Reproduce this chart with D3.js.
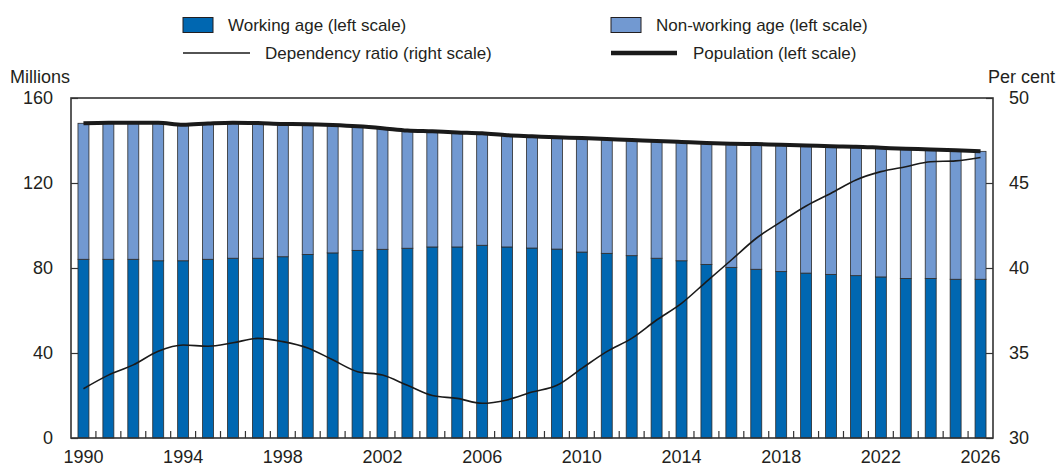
<!DOCTYPE html>
<html><head><meta charset="utf-8">
<script src="https://cdn.jsdelivr.net/npm/d3@7"></script>
<style>
html,body{margin:0;padding:0;background:#fff;}
svg text{font-family:"Liberation Sans Narrow","Arial Narrow","Liberation Sans",sans-serif;font-stretch:condensed;fill:#231f20;}
</style></head>
<body>
<svg id="chart" width="1057" height="468"></svg>
<script>
const years = d3.range(1990, 2027);
const workingAge = [84.1,84.1,84.1,83.4,83.4,84.1,84.6,84.6,85.3,86.4,87.1,88.3,88.8,89.3,89.9,89.9,90.7,89.9,89.4,88.9,87.5,86.9,85.8,84.6,83.4,81.7,80.3,79.4,78.3,77.6,77.0,76.4,75.8,75.1,75.1,74.7,74.7];
const population = [148.1,148.4,148.4,148.3,147.4,148.0,148.4,148.2,147.8,147.7,147.3,146.7,145.8,144.7,144.3,143.8,143.4,142.5,142.0,141.5,141.2,140.7,140.2,139.8,139.3,138.8,138.5,138.3,138.0,137.7,137.3,137.1,136.6,136.1,135.8,135.4,134.9];
const nonWorkingAge = population.map((p,i)=> +(p - workingAge[i]).toFixed(1));
const dependencyRatio = [32.9,33.7,34.3,35.1,35.47,35.4,35.6,35.86,35.67,35.3,34.6,33.9,33.7,33.1,32.5,32.33,32.04,32.24,32.7,33.1,34.1,35.08,35.86,36.94,37.92,39.2,40.47,41.75,42.73,43.65,44.4,45.18,45.67,45.96,46.25,46.3,46.5];
const leftTicks = [0,40,80,120,160];
const rightTicks = [30,35,40,45,50];
const yearLabels = d3.range(1990, 2027, 4);
const legendItems = [
  {label:"Working age (left scale)", type:"rect", key:"work"},
  {label:"Non-working age (left scale)", type:"rect", key:"non"},
  {label:"Dependency ratio (right scale)", type:"thin", key:"dep"},
  {label:"Population (left scale)", type:"thick", key:"pop"}
];

const colors = {work:"#0067b1", non:"#7299d1", line:"#1a1a1a", frame:"#333"};
const X0=71, X1=993, Y0=98, Y1=438;
const svg = d3.select("#chart");

const x = d3.scaleBand().domain(years).range([X0,X1]).paddingInner(0.56).paddingOuter(0.28);
const yL = d3.scaleLinear().domain([0,160]).range([Y1,Y0]);
const yR = d3.scaleLinear().domain([30,50]).range([Y1,Y0]);
const cx = d => x(d) + x.bandwidth()/2;

// bars
const g = svg.append("g");
g.selectAll("rect.work").data(years).join("rect")
  .attr("x", d=>x(d)).attr("width", x.bandwidth())
  .attr("y", (d,i)=>yL(workingAge[i])).attr("height",(d,i)=>yL(0)-yL(workingAge[i]))
  .attr("fill", colors.work).attr("stroke","#2b2b2b").attr("stroke-width",0.8);
g.selectAll("rect.non").data(years).join("rect")
  .attr("x", d=>x(d)).attr("width", x.bandwidth())
  .attr("y", (d,i)=>yL(workingAge[i]+nonWorkingAge[i])).attr("height",(d,i)=>yL(workingAge[i])-yL(workingAge[i]+nonWorkingAge[i]))
  .attr("fill", colors.non).attr("stroke","#2b2b2b").attr("stroke-width",0.8);

// lines
const depLine = d3.line().x((d,i)=>cx(years[i])).y(d=>yR(d)).curve(d3.curveMonotoneX);
svg.append("path").attr("d", depLine(dependencyRatio)).attr("fill","none").attr("stroke",colors.line).attr("stroke-width",1.6);
const popLine = d3.line().x((d,i)=>cx(years[i])).y(d=>yL(d)).curve(d3.curveMonotoneX);
svg.append("path").attr("d", popLine(population)).attr("fill","none").attr("stroke",colors.line).attr("stroke-width",4);

// axes
const fs = 18;
const axL = svg.append("g").attr("transform",`translate(${X0},0)`)
  .call(d3.axisLeft(yL).tickValues(leftTicks).tickSize(-7).tickPadding(18));
const axR = svg.append("g").attr("transform",`translate(${X1},0)`)
  .call(d3.axisRight(yR).tickValues(rightTicks).tickSize(-7).tickPadding(16));
const axB = svg.append("g").attr("transform",`translate(0,${Y1})`)
  .call(d3.axisBottom(x).tickValues(yearLabels).tickSize(0).tickPadding(12.5));
[axL,axR,axB].forEach(a=>{
  a.select(".domain").remove();
  a.selectAll("line").attr("stroke",colors.frame).attr("stroke-width",1.2);
  a.selectAll("text").attr("font-size",fs).attr("fill","#231f20");
});
axB.selectAll("text").attr("dy","0.71em");
// inner bottom ticks at band boundaries
const step = x.step();
svg.append("g").selectAll("line").data(years.slice(0,-1)).join("line")
  .attr("x1", d=>cx(d)+step/2).attr("x2", d=>cx(d)+step/2)
  .attr("y1", Y1).attr("y2", Y1-7).attr("stroke",colors.frame).attr("stroke-width",1.2);

// frame
svg.append("rect").attr("x",X0).attr("y",Y0).attr("width",X1-X0).attr("height",Y1-Y0)
  .attr("fill","none").attr("stroke",colors.frame).attr("stroke-width",1.6);

// axis titles
svg.append("text").attr("x",10).attr("y",83).attr("font-size",fs).text("Millions");
svg.append("text").attr("x",1055).attr("y",83).attr("font-size",fs).attr("text-anchor","end").text("Per cent");

// legend
const legPos = {
  work:{sx:183, tx:228, y:25},
  non:{sx:611, tx:656, y:25},
  dep:{sx:183, tx:265, y:53},
  pop:{sx:611, tx:693, y:53}
};
const leg = svg.append("g");
legendItems.forEach(it=>{
  const p = legPos[it.key];
  if(it.type==="rect"){
    leg.append("rect").attr("x",p.sx).attr("y",p.y-7.5).attr("width",30).attr("height",15)
      .attr("fill", colors[it.key]).attr("stroke","#231f20").attr("stroke-width",1);
  } else {
    leg.append("line").attr("x1",p.sx).attr("x2",p.sx+(it.type==="thin"?67:66)).attr("y1",p.y).attr("y2",p.y)
      .attr("stroke",colors.line).attr("stroke-width", it.type==="thin"?1.6:4.5);
  }
  leg.append("text").attr("x",p.tx).attr("y",p.y+6).attr("font-size",17).text(it.label);
});
</script>
</body></html>
